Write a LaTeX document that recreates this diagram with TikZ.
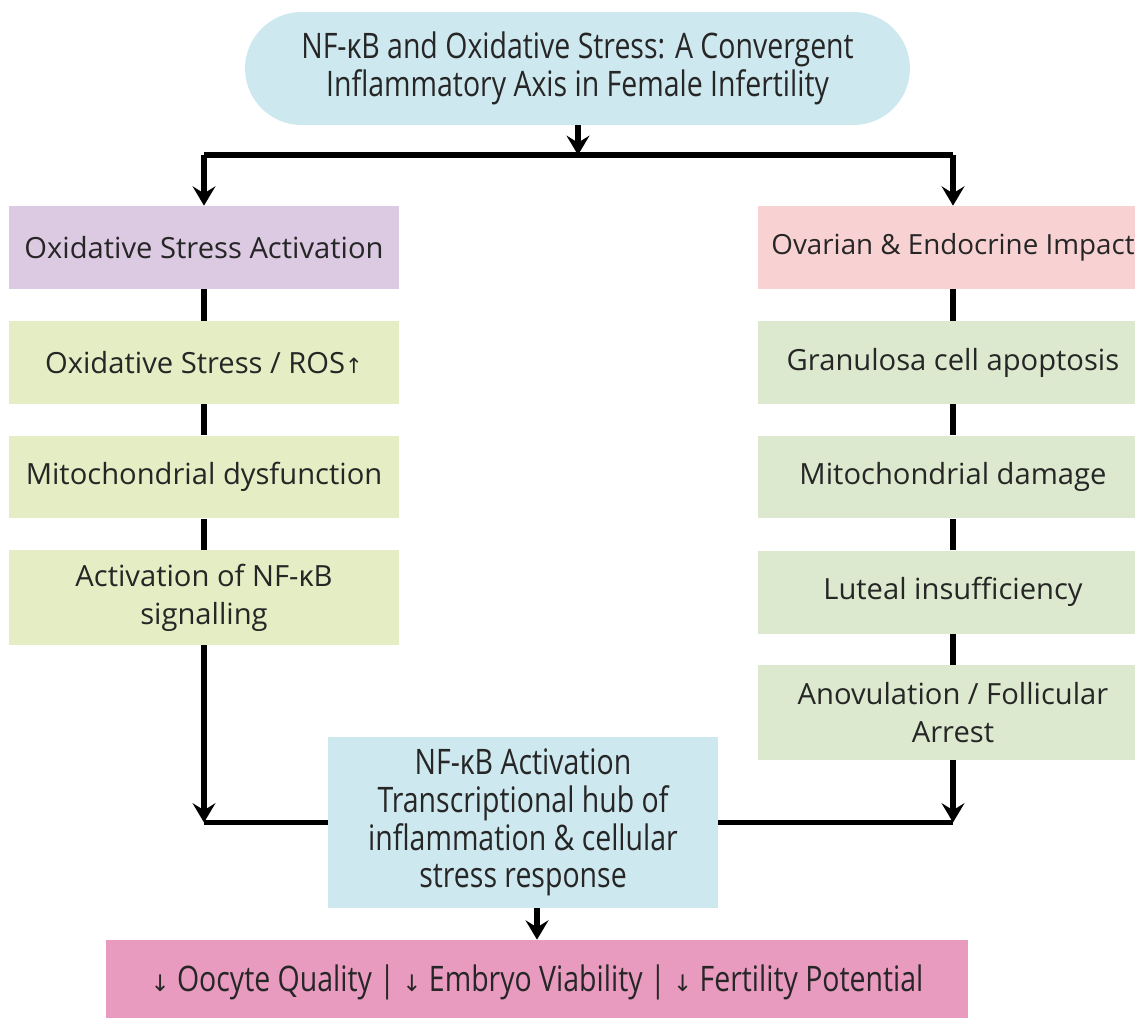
\documentclass[tikz,border=0pt]{standalone}
\usepackage{fontspec}
\setmainfont{Open Sans}
\newfontfamily\condfont[FakeStretch=0.81]{Open Sans}
\newfontfamily\symfont{DejaVu Sans}
\usetikzlibrary{positioning,arrows.meta}

\definecolor{titleblue}{HTML}{CDE8EE}
\definecolor{lilac}{HTML}{DCCAE3}
\definecolor{limegreen}{HTML}{E4EDC3}
\definecolor{sagegreen}{HTML}{DCE9CE}
\definecolor{blush}{HTML}{F8D2D3}
\definecolor{rosepink}{HTML}{E89BBF}

\begin{document}
\begin{tikzpicture}[
  x=0.02cm, y=-0.02cm,
  >={Stealth[length=11pt, width=13pt, inset=4pt]},
  flow/.style={line width=3.2pt, black, line join=miter},
  box/.style={minimum width=7.8cm, minimum height=1.66cm, inner sep=0pt,
              align=center, text=black!85, font=\fontsize{16.6}{21.5}\selectfont},
  tallbox/.style={box, minimum height=1.9cm},
  cond/.style={align=center, text=black!85, inner sep=0pt,
               font=\condfont\fontsize{20}{21.5}\selectfont}
]
  \useasboundingbox (0,0) rectangle (1135,1017);

  % --- title pill ---
  \node[cond, fill=titleblue, rounded corners=1.13cm,
        minimum width=13.3cm, minimum height=2.26cm] (title) at (577.5,68.5)
        {NF-κB and Oxidative Stress: A Convergent\\Inflammatory Axis in Female Infertility};

  % --- left column: oxidative stress ---
  \node[box, fill=lilac]     (oxhead) at (204,247.5) {Oxidative Stress Activation};
  \node[box, fill=limegreen] (ros)    at (204,362.5) {Oxidative Stress / ROS{\symfont\fontsize{12}{12}\selectfont ↑}};
  \node[box, fill=limegreen] (mitodys) at (204,477)  {Mitochondrial dysfunction};
  \node[tallbox, fill=limegreen] (actnfkb) at (204,597.5) {Activation of NF-κB\\signalling};

  % --- right column: ovarian & endocrine ---
  \node[box, fill=blush, font=\fontsize{15.8}{21.5}\selectfont] (ovhead) at (953,247.5) {Ovarian \& Endocrine Impact};
  \node[box, fill=sagegreen] (granulosa) at (953,362.5) {Granulosa cell apoptosis};
  \node[box, fill=sagegreen] (mitodam) at (953,477)  {Mitochondrial damage};
  \node[box, fill=sagegreen] (luteal)  at (953,592)  {Luteal insufficiency};
  \node[tallbox, fill=sagegreen] (anov) at (953,712.5) {Anovulation / Follicular\\Arrest};

  % --- central hub and outcome ---
  \node[cond, fill=titleblue, minimum width=7.8cm, minimum height=3.42cm] (hub) at (523,822.5)
        {NF-κB Activation\\Transcriptional hub of\\inflammation \& cellular\\stress response};
  \node[cond, fill=rosepink, minimum width=17.24cm, minimum height=1.7cm] (outcome) at (537,982.5)
        {{\symfont\fontsize{13}{13}\selectfont ↓} Oocyte Quality | {\symfont\fontsize{13}{13}\selectfont ↓} Embryo Viability | {\symfont\fontsize{13}{13}\selectfont ↓} Fertility Potential};

  % split under the title
  \coordinate (split)  at (578,155);
  \coordinate (splitL) at (204,155);
  \coordinate (splitR) at (953,155);
  \draw[flow, ->] (title.south -| split) -- (split);
  \draw[flow] (splitL) -- (splitR);
  \draw[flow, ->] (splitL) -- (oxhead.north);
  \draw[flow, ->] (splitR) -- (ovhead.north);

  % column chains
  \foreach \a/\b in {oxhead/ros, ros/mitodys, mitodys/actnfkb,
                     ovhead/granulosa, granulosa/mitodam, mitodam/luteal, luteal/anov}
    \draw[flow] (\a.south) -- (\b.north);

  % merge into the hub
  \coordinate (joinL) at (204,822.5);
  \coordinate (joinR) at (953,822.5);
  \draw[flow, ->] (actnfkb.south) -- (joinL);
  \draw[flow] (joinL) -- (hub.west);
  \draw[flow, ->] (anov.south) -- (joinR);
  \draw[flow] (joinR) -- (hub.east);

  \draw[flow, ->] (hub.south -| outcome.north) -- (outcome.north);

\end{tikzpicture}
\end{document}
